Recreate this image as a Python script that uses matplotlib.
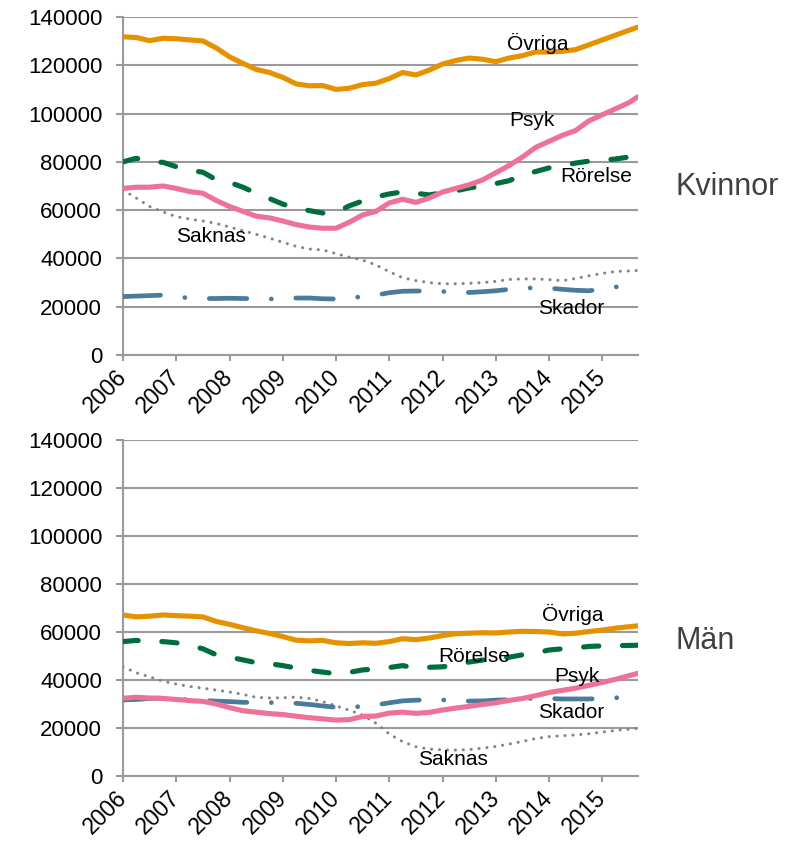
import numpy as np
import matplotlib
matplotlib.use("Agg")
import matplotlib.pyplot as plt

plt.rcParams['font.family'] = ['Liberation Sans', 'DejaVu Sans']
plt.rcParams['lines.scale_dashes'] = False

# quarterly points, Jan 2006 .. Aug 2015 (decimal years)
years = np.append(np.arange(2006, 2015.51, 0.25), 2015.67)

# Kvinnor (thousands)
kv_ovriga = [131.8, 131.5, 130.2, 131.2, 131.0, 130.5, 130.1, 127.2, 123.5, 120.8,
             118.3, 117.0, 115.0, 112.3, 111.5, 111.6, 110.0, 110.5, 112.0, 112.6,
             114.5, 117.0, 116.0, 118.0, 120.5, 122.0, 123.0, 122.5, 121.5, 123.0,
             124.0, 125.5, 125.5, 125.8, 126.5, 128.5, 130.5, 132.5, 134.5, 135.8]
kv_psyk = [69.0, 69.5, 69.5, 70.0, 69.0, 67.7, 67.0, 64.0, 61.5, 59.5,
           57.5, 56.8, 55.5, 54.0, 53.0, 52.5, 52.5, 55.0, 58.0, 59.5,
           63.0, 64.5, 63.2, 65.0, 67.5, 69.0, 70.5, 72.5, 75.5, 78.5,
           82.0, 86.0, 88.5, 91.0, 93.0, 97.0, 99.5, 102.0, 104.5, 107.0]
kv_rorelse = [80.0, 81.5, 80.0, 79.8, 78.0, 76.5, 75.7, 72.6, 71.5, 69.5,
              67.0, 64.8, 62.5, 60.8, 59.8, 58.8, 59.0, 61.8, 63.8, 65.5,
              66.7, 67.6, 67.0, 66.3, 67.2, 68.0, 69.2, 70.0, 71.0, 72.2,
              74.5, 76.0, 77.5, 78.5, 79.5, 80.3, 80.6, 81.2, 82.0, 82.8]
kv_saknas = [68.3, 65.0, 61.5, 59.3, 57.3, 56.3, 55.5, 54.5, 53.0, 51.5,
             50.0, 48.4, 46.7, 45.0, 43.9, 43.5, 42.0, 40.5, 39.3, 37.3,
             34.5, 32.0, 30.8, 30.0, 29.5, 29.5, 29.7, 30.0, 30.5, 31.3,
             31.5, 31.5, 31.2, 30.8, 31.7, 32.8, 33.8, 34.6, 34.8, 35.0]
kv_skador = [24.2, 24.4, 24.6, 24.8, 24.3, 23.5, 23.4, 23.4, 23.5, 23.4,
             23.3, 23.2, 23.3, 23.6, 23.6, 23.3, 23.2, 23.6, 24.2, 24.8,
             25.8, 26.4, 26.5, 26.5, 26.3, 26.0, 25.9, 26.2, 26.6, 27.2,
             27.6, 27.9, 27.7, 27.2, 26.8, 26.6, 27.3, 28.2, 28.4, 28.5]

# Män (thousands)
man_ovriga = [67.1, 66.3, 66.6, 67.1, 66.8, 66.6, 66.3, 64.4, 63.2, 61.8,
              60.5, 59.4, 58.1, 56.6, 56.3, 56.5, 55.5, 55.2, 55.5, 55.3,
              56.0, 57.2, 56.8, 57.5, 58.5, 59.3, 59.5, 59.7, 59.6, 60.0,
              60.3, 60.2, 60.0, 59.2, 59.5, 60.2, 60.8, 61.6, 62.2, 62.6]
man_rorelse = [56.0, 56.5, 56.0, 56.0, 55.5, 54.5, 53.0, 50.5, 49.5, 48.4,
               47.2, 46.8, 46.0, 45.0, 44.0, 43.3, 42.6, 43.2, 44.2, 44.6,
               45.2, 46.0, 45.0, 45.3, 45.5, 46.2, 47.5, 48.3, 49.0, 49.5,
               50.5, 51.3, 52.5, 53.0, 53.4, 54.0, 54.2, 54.3, 54.4, 54.5]
man_psyk = [32.4, 32.8, 32.5, 32.3, 31.9, 31.4, 31.1, 30.0, 28.5, 27.2,
            26.6, 26.0, 25.6, 24.9, 24.3, 23.8, 23.3, 23.5, 24.8, 25.0,
            26.2, 26.6, 26.1, 26.5, 27.5, 28.3, 29.0, 29.8, 30.5, 31.5,
            32.3, 33.5, 34.8, 35.7, 36.6, 37.8, 39.0, 40.3, 41.8, 42.8]
man_skador = [31.7, 31.9, 32.3, 32.5, 32.2, 31.7, 31.5, 31.2, 31.0, 30.7,
              30.6, 30.6, 30.5, 30.3, 29.8, 29.2, 28.6, 28.7, 29.0, 29.6,
              30.5, 31.3, 31.6, 31.7, 31.7, 31.4, 31.2, 31.3, 31.6, 31.8,
              32.1, 32.4, 32.3, 32.1, 32.1, 32.1, 32.3, 32.6, 32.7, 32.8]
man_saknas = [45.5, 43.0, 41.3, 39.5, 38.3, 37.3, 36.6, 35.8, 35.0, 34.0,
              32.8, 32.5, 32.6, 32.9, 32.3, 31.0, 29.2, 27.4, 25.4, 22.0,
              17.5, 14.3, 12.2, 11.2, 10.9, 10.8, 11.0, 11.6, 12.3, 13.3,
              14.4, 15.6, 16.4, 16.8, 17.1, 17.6, 18.3, 19.0, 19.5, 19.9]

year_ticks = list(range(2006, 2016))

c_orange = '#E69100'
c_pink = '#EE7298'
c_green = '#006E3C'
c_blue = '#4A7B9C'
c_gray = '#858585'
c_grid = '#9A9A9A'

fig = plt.figure(figsize=(8, 8.46), dpi=100)
ax1 = fig.add_axes([0.15375, 0.58038, 0.64375, 0.39953])
ax2 = fig.add_axes([0.15375, 0.08274, 0.64375, 0.39716])


def draw(ax, ovriga, psyk, rorelse, saknas, skador):
    k = 1000
    ax.plot(years, np.array(saknas) * k, color=c_gray, lw=2.2,
            dashes=(0.1, 5.6), dash_capstyle='round', zorder=3)
    ax.plot(years, np.array(skador) * k, color=c_blue, lw=3.4,
            dashes=(27, 17.6, 0.1, 17.6), dash_capstyle='round', zorder=3)
    ax.plot(years, np.array(rorelse) * k, color=c_green, lw=3.7,
            dashes=(11, 17), dash_capstyle='round', zorder=3)
    ax.plot(years, np.array(psyk) * k, color=c_pink, lw=3.7,
            solid_capstyle='round', zorder=3)
    ax.plot(years, np.array(ovriga) * k, color=c_orange, lw=3.7,
            solid_capstyle='round', zorder=3)

    ax.set_xlim(2006, 2015.67)
    ax.set_ylim(0, 140000)
    ax.set_yticks(range(0, 140001, 20000))
    ax.set_xticks(year_ticks)
    ax.set_xticklabels([str(y) for y in year_ticks], rotation=45, ha='right',
                       va='center', rotation_mode='anchor')
    ax.grid(axis='y', color=c_grid, lw=1.5)
    ax.set_axisbelow(True)
    for s in ['top', 'right']:
        ax.spines[s].set_visible(False)
    for s in ['left', 'bottom']:
        ax.spines[s].set_color(c_grid)
        ax.spines[s].set_linewidth(1.5)
    ax.tick_params(axis='y', length=5, width=1.5, color=c_grid, pad=10, labelsize=16)
    ax.tick_params(axis='x', length=4.5, width=1.5, color=c_grid, pad=9, labelsize=16.5)


draw(ax1, kv_ovriga, kv_psyk, kv_rorelse, kv_saknas, kv_skador)
draw(ax2, man_ovriga, man_psyk, man_rorelse, man_saknas, man_skador)

fs = 15
ax1.text(2013.78, 129000, 'Övriga', ha='center', va='center', fontsize=fs)
ax1.text(2013.67, 97300, 'Psyk', ha='center', va='center', fontsize=fs)
ax1.text(2014.89, 74100, 'Rörelse', ha='center', va='center', fontsize=fs)
ax1.text(2007.65, 48900, 'Saknas', ha='center', va='center', fontsize=fs)
ax1.text(2014.42, 19100, 'Skador', ha='center', va='center', fontsize=fs)

ax2.text(2014.44, 67500, 'Övriga', ha='center', va='center', fontsize=fs)
ax2.text(2012.6, 50000, 'Rörelse', ha='center', va='center', fontsize=fs)
ax2.text(2014.53, 41300, 'Psyk', ha='center', va='center', fontsize=fs)
ax2.text(2014.42, 26300, 'Skador', ha='center', va='center', fontsize=fs)
ax2.text(2012.19, 6700, 'Saknas', ha='center', va='center', fontsize=fs)

fig.text(675 / 800, 1 - 195 / 846, 'Kvinnor', fontsize=22, color='#404040',
         ha='left', va='baseline')
fig.text(676 / 800, 1 - 649 / 846, 'Män', fontsize=22, color='#404040',
         ha='left', va='baseline')

plt.savefig('out.png', dpi=100)
